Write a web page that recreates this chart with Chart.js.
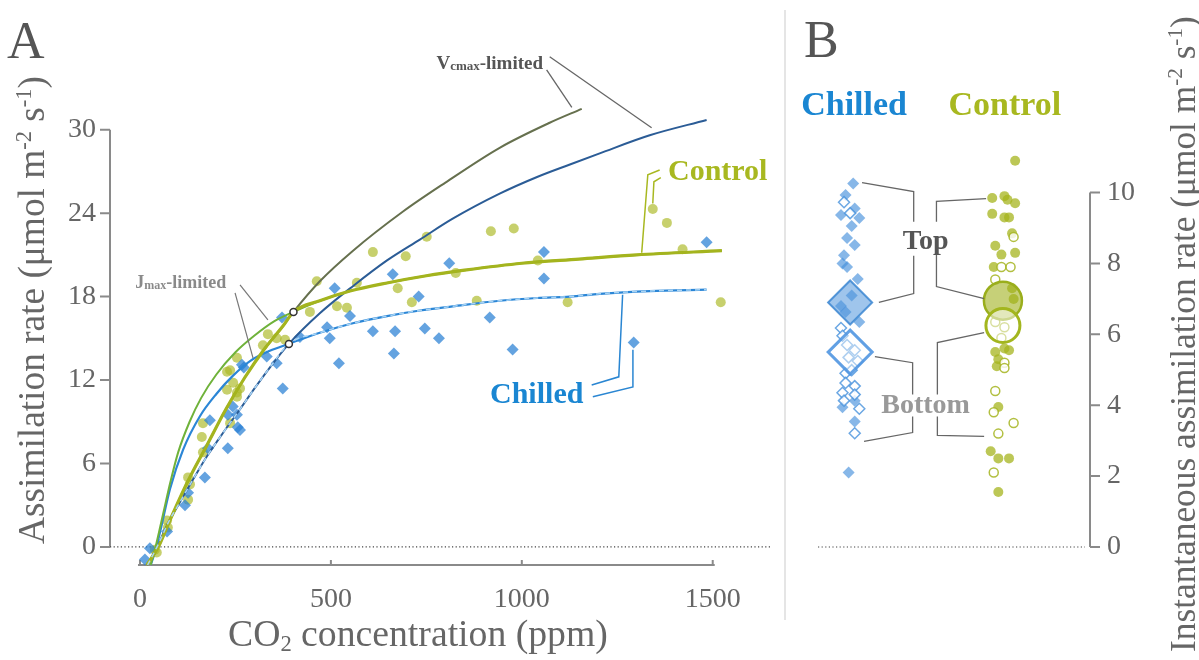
<!DOCTYPE html>
<html>
<head>
<meta charset="utf-8">
<script src="https://cdn.jsdelivr.net/npm/chart.js@4"></script>
<style>
body { margin: 0; background: #fff; width: 1199px; height: 660px; overflow: hidden; position: relative; }
canvas { position: absolute; top: 0; }
#panelA { left: 0; }
#panelB { left: 790px; }
</style>
</head>
<body>
<canvas id="panelA" width="790" height="660"></canvas>
<canvas id="panelB" width="409" height="660"></canvas>
<script>
// ---- panel A data: [CO2 ppm, assimilation] ----
const xTicks = [0, 500, 1000, 1500]
const yTicks = [0, 6, 12, 18, 24, 30]

const chilledPts = [[13,-0.9],[26,-0.1],[71,1.1],[118,3.0],[126,3.9],[170,5.0],[178,7.1],[230,7.1],[183,9.1],[230,9.5],[243,10.1],[254,9.5],[256,8.6],[262,8.4],[267,13.1],[272,12.9],[332,13.7],[358,13.2],[374,11.4],[372,16.5],[419,15.1],[490,15.8],[497,15.0],[510,18.6],[521,13.2],[550,16.6],[610,15.5],[662,19.6],[668,15.5],[665,13.9],[730,18.0],[746,15.7],[783,15.0],[810,20.4],[916,16.5],[976,14.2],[1058,21.2],[1058,19.3],[1293,14.7],[1484,21.9]]
const controlPts = [[39,-0.2],[44,-0.4],[71,1.9],[73,1.4],[126,3.4],[131,4.5],[126,5.0],[165,6.8],[162,7.9],[165,8.9],[236,8.9],[228,11.3],[254,11.1],[244,11.8],[262,11.4],[254,10.8],[228,12.6],[236,12.7],[254,13.6],[322,14.5],[335,15.3],[358,15.0],[380,14.9],[445,16.9],[463,19.1],[516,17.3],[542,17.2],[568,19.0],[610,21.2],[675,18.6],[696,20.9],[712,17.6],[751,22.3],[827,19.7],[882,17.7],[919,22.7],[979,22.9],[1042,20.6],[1120,17.6],[1343,24.3],[1380,23.3],[1421,21.4],[1521,17.6]]

// curves
const ctlVcmax = [[18,-1.3],[50,0.1],[75,1.7],[125,4.7],[175,7.3],[225,9.9],[275,12.2],[325,14.2],[375,15.9],[402,16.9],[471,19.1],[558,21.3],[688,24.1],[800,26.2],[942,28.7],[1073,30.5],[1157,31.5]]
const ctlJmax = [[28,-1.3],[40,-0.1],[60,2.3],[80,4.7],[100,6.8],[130,9.0],[160,10.7],[200,12.4],[250,14.0],[300,15.2],[350,16.2],[402,16.9],[471,17.7],[550,18.4],[650,19.0],[750,19.5],[850,19.9],[1000,20.4],[1150,20.7],[1300,21.0],[1524,21.3]]
const chilledVcmax = [[20,-1.3],[50,0.3],[75,1.8],[100,3.0],[140,4.9],[175,6.5],[220,8.3],[262,9.9],[300,11.4],[340,12.9],[390,14.6],[471,16.8],[560,18.8],[647,20.6],[733,22.1],[819,23.6],[942,25.4],[1040,26.6],[1126,27.5],[1204,28.3],[1335,29.6],[1484,30.7]]
const chilledJmax = [[28,-1.3],[40,-0.3],[52,1.0],[79,4.2],[113,7.0],[157,9.4],[200,11.0],[243,12.3],[290,13.4],[340,14.1],[390,14.6],[471,15.4],[560,16.1],[647,16.6],[733,17.0],[819,17.3],[942,17.7],[1040,17.9],[1126,18.0],[1204,18.2],[1335,18.4],[1484,18.5]]
const crossPts = [[402,16.9],[390,14.6]]

// ---- panel B data: [jittered group position, instantaneous rate] ----
const bTicks = [0, 2, 4, 6, 8, 10]
const chilledTop = [[1.02,10.26],[0.97,9.93],[1.03,9.55],[0.94,9.37],[1.06,9.28],[1.01,9.06],[0.98,8.72],[1.03,8.52],[0.96,8.23],[0.95,8.0],[0.98,7.9],[1.05,7.56],[1.01,7.1],[0.94,6.8],[0.97,6.63],[1.06,6.35],[1.03,4.13],[0.95,3.94],[1.03,3.54],[0.99,2.1]]
const chilledBottom = [[0.96,9.73],[1.0,9.42],[0.94,6.18],[0.95,5.96],[0.98,5.7],[1.03,5.55],[0.99,5.35],[1.05,5.25],[0.97,4.9],[1.01,4.99],[0.97,4.63],[1.03,4.54],[0.95,4.35],[1.03,4.3],[0.96,4.13],[1.06,3.9],[1.03,3.21]]
const controlTop = [[2.08,10.9],[1.93,9.85],[2.01,9.9],[2.03,9.8],[2.08,9.7],[1.93,9.4],[2.01,9.3],[2.04,9.3],[2.06,8.85],[1.95,8.5],[1.99,8.25],[2.08,8.3],[1.94,7.9],[2.06,7.3],[2.07,7.0],[1.95,5.5],[2.01,5.6],[2.04,5.55],[1.97,5.3],[1.96,5.1],[1.97,3.95],[1.92,2.7],[1.97,2.5],[2.04,2.5],[1.97,1.55]]
const controlBottom = [[2.07,8.75],[1.99,7.9],[2.05,7.9],[1.95,7.55],[1.95,6.35],[2.01,6.2],[1.99,5.9],[2.01,5.2],[2.01,5.05],[1.95,4.4],[1.94,3.8],[2.07,3.5],[1.97,3.2],[1.94,2.1]]
const groupX = [1, 2]
const meanTop = [6.9, 6.95]
const meanBottom = [5.5, 6.25]

const SERIF = '"Liberation Serif", "DejaVu Serif", serif'
const AXIS = '#8a8a8a'
const TEXT = '#666'

const pts = arr => arr.map(p => ({ x: p[0], y: p[1] }))
const controlFit = ctlVcmax.filter(p => p[0] <= 402).concat(ctlJmax.filter(p => p[0] > 402))
const chilledFit = chilledVcmax.filter(p => p[0] <= 390).concat(chilledJmax.filter(p => p[0] > 390))

function curve(arr, color, width, order, extra) {
    return Object.assign({
        type: 'line', data: pts(arr), borderColor: color, borderWidth: width,
        pointRadius: 0, fill: false, cubicInterpolationMode: 'monotone', order: order, clip: false
    }, extra || {})
}

function toPx(chart, x, y) {
    return [chart.scales.x.getPixelForValue(x), chart.scales.y.getPixelForValue(y)]
}

function path(ctx, chart, list, color, width) {
    ctx.save()
    ctx.beginPath()
    ctx.strokeStyle = color
    ctx.lineWidth = width
    list.forEach((p, i) => {
        let [px, py] = toPx(chart, p[0], p[1])
        if (i) ctx.lineTo(px, py)
        else ctx.moveTo(px, py)
    })
    ctx.stroke()
    ctx.restore()
}

// parts: [text, size, dy]
function richText(ctx, chart, parts, x, y, color) {
    let [cx, cy] = toPx(chart, x, y)
    ctx.save()
    ctx.fillStyle = color
    ctx.textBaseline = 'alphabetic'
    let total = 0
    for (let p of parts) {
        ctx.font = 'bold ' + p[1] + 'px ' + SERIF
        total += ctx.measureText(p[0]).width
    }
    let left = cx - total / 2
    for (let p of parts) {
        ctx.font = 'bold ' + p[1] + 'px ' + SERIF
        ctx.fillText(p[0], left, cy + (p[2] || 0))
        left += ctx.measureText(p[0]).width
    }
    ctx.restore()
}

// title text with sub/superscripts, fitted to a length; parts: [text, scale, dy in em]
function titleText(ctx, parts, len, cx, cy) {
    let base = 36
    let widthAt = size => {
        let w = 0
        for (let p of parts) {
            ctx.font = (size * p[1]) + 'px ' + SERIF
            w += ctx.measureText(p[0]).width
        }
        return w
    }
    let size = base * len / widthAt(base)
    let left = cx - len / 2
    ctx.textAlign = 'left'
    ctx.textBaseline = 'alphabetic'
    for (let p of parts) {
        ctx.font = (size * p[1]) + 'px ' + SERIF
        ctx.fillText(p[0], left, cy + size * 0.33 + p[2] * size)
        left += ctx.measureText(p[0]).width
    }
}

const unitParts = [['(\u03bcmol m', 1, 0], ['-2', 0.6, -0.36], [' s', 1, 0], ['-1', 0.6, -0.36], [')', 1, 0]]

const axesA = {
    id: 'axesA',
    beforeDatasetsDraw(chart) {
        let ctx = chart.ctx
        let xs = chart.scales.x, ys = chart.scales.y
        let area = chart.chartArea
        ctx.save()
        ctx.strokeStyle = AXIS
        ctx.lineWidth = 2
        // y axis
        ctx.beginPath()
        ctx.moveTo(area.left, ys.getPixelForValue(30))
        ctx.lineTo(area.left, ys.getPixelForValue(0))
        for (let v of yTicks) {
            ctx.moveTo(area.left - 10, ys.getPixelForValue(v))
            ctx.lineTo(area.left, ys.getPixelForValue(v))
        }
        // x axis
        ctx.moveTo(xs.getPixelForValue(0) - 2, area.bottom)
        ctx.lineTo(xs.getPixelForValue(1500) + 2, area.bottom)
        for (let v of xTicks) {
            ctx.moveTo(xs.getPixelForValue(v), area.bottom)
            ctx.lineTo(xs.getPixelForValue(v), area.bottom - 5)
        }
        ctx.stroke()
        // dotted zero line
        ctx.beginPath()
        ctx.strokeStyle = '#444'
        ctx.lineWidth = 1.2
        ctx.setLineDash([1.2, 2.4])
        ctx.moveTo(area.left, ys.getPixelForValue(0))
        ctx.lineTo(area.right, ys.getPixelForValue(0))
        ctx.stroke()
        ctx.setLineDash([])
        // panel separator
        ctx.beginPath()
        ctx.strokeStyle = '#dcdcdc'
        ctx.lineWidth = 1.5
        ctx.moveTo(785, 10)
        ctx.lineTo(785, 620)
        ctx.stroke()
        ctx.restore()
    },
    afterDatasetsDraw(chart) {
        let ctx = chart.ctx
        // leader lines
        path(ctx, chart, [[1073,35.25],[1340,30.14]], '#666', 1.3)
        path(ctx, chart, [[1065,34.3],[1131,31.6]], '#666', 1.3)
        path(ctx, chart, [[262,18.85],[335,16.33]], '#777', 1.2)
        path(ctx, chart, [[249,18.27],[296,13.6]], '#777', 1.2)
        path(ctx, chart, [[1361,27.1],[1330,26.76],[1314,21.15]], '#a8b820', 1.5)
        path(ctx, chart, [[1364,26.55],[1346,26.26],[1343,24.7]], '#a8b820', 1.5)
        path(ctx, chart, [[1183,11.65],[1254,12.23],[1264,18.13]], '#2a86d2', 1.5)
        path(ctx, chart, [[1186,10.8],[1291,11.5],[1291,14.17]], '#2a86d2', 1.5)
        // labels
        richText(ctx, chart, [['V', 19], ['cmax', 13, 1], ['-limited', 19]], 916, 34.4, '#555')
        richText(ctx, chart, [['J', 18], ['max', 12, 1], ['-limited', 18]], 107, 18.63, '#8a8a8a')
        richText(ctx, chart, [['Control', 30]], 1513, 26.4, '#a8b820')
        richText(ctx, chart, [['Chilled', 30]], 1039, 10.36, '#1a86d2')

        ctx.save()
        ctx.fillStyle = '#555'
        ctx.font = '52px ' + SERIF
        ctx.textAlign = 'left'
        ctx.textBaseline = 'alphabetic'
        ctx.fillText('A', 7, 58)
        ctx.fillStyle = TEXT
        titleText(ctx, [['CO', 1, 0], ['2', 0.6, 0.12], [' concentration (ppm)', 1, 0]], 380, 418, 634)
        ctx.translate(32, 310)
        ctx.rotate(-Math.PI / 2)
        titleText(ctx, [['Assimilation rate ', 1, 0]].concat(unitParts), 468, 0, 0)
        ctx.restore()
    }
}

let chartA = new Chart(document.getElementById('panelA'), {
    type: 'scatter',
    data: {
        datasets: [
            { data: pts(controlPts), pointStyle: 'circle', pointRadius: 5, backgroundColor: 'rgba(172,186,40,0.68)', borderWidth: 0, order: 10, clip: false },
            { data: pts(chilledPts), pointStyle: 'rectRot', pointRadius: 6, backgroundColor: 'rgba(40,128,212,0.72)', borderWidth: 0, order: 9, clip: false },
            curve(ctlVcmax, '#66704e', 2, 6),
            curve(chilledVcmax, '#2b5c96', 2, 6),
            curve(ctlJmax, '#6fb23a', 2, 5),
            curve(chilledJmax, '#2b86d6', 2.2, 5),
            curve(controlFit, '#a4b41e', 3.2, 3),
            curve(chilledFit, '#a8d4f5', 1.5, 2, { borderDash: [5, 4] }),
            { data: pts(crossPts), pointRadius: 3.5, backgroundColor: '#fff', borderColor: '#333', borderWidth: 1.5, order: 1, clip: false }
        ]
    },
    options: {
        responsive: false,
        animation: false,
        devicePixelRatio: 1,
        layout: { padding: { top: 88, right: 20, left: 0, bottom: 0 } },
        plugins: { legend: { display: false }, tooltip: { enabled: false } },
        scales: {
            x: {
                type: 'linear', min: -78.5, max: 1650,
                grid: { display: false, drawTicks: false }, border: { display: false },
                afterBuildTicks: s => { s.ticks = xTicks.map(v => ({ value: v })) },
                afterFit: s => { s.height = 95 },
                ticks: { font: { family: SERIF, size: 28 }, color: TEXT, padding: 18, maxRotation: 0, autoSkip: false, callback: v => String(v) }
            },
            y: {
                type: 'linear', min: -1.3, max: 33,
                grid: { display: false, drawTicks: false }, border: { display: false },
                afterBuildTicks: s => { s.ticks = yTicks.map(v => ({ value: v })) },
                afterFit: s => { s.width = 110 },
                ticks: { font: { family: SERIF, size: 28 }, color: TEXT, padding: 14, autoSkip: false, callback: v => String(v) }
            }
        }
    },
    plugins: [axesA]
})

const axesB = {
    id: 'axesB',
    beforeDatasetsDraw(chart) {
        let ctx = chart.ctx
        let ys = chart.scales.y
        let area = chart.chartArea
        ctx.save()
        ctx.strokeStyle = AXIS
        ctx.lineWidth = 2
        ctx.beginPath()
        ctx.moveTo(area.right, ys.getPixelForValue(10))
        ctx.lineTo(area.right, ys.getPixelForValue(0))
        for (let v of bTicks) {
            ctx.moveTo(area.right, ys.getPixelForValue(v))
            ctx.lineTo(area.right + 10, ys.getPixelForValue(v))
        }
        ctx.stroke()
        ctx.beginPath()
        ctx.strokeStyle = '#444'
        ctx.lineWidth = 1.2
        ctx.setLineDash([1.2, 2.4])
        ctx.moveTo(area.left + 3, ys.getPixelForValue(0))
        ctx.lineTo(area.right - 5, ys.getPixelForValue(0))
        ctx.stroke()
        ctx.restore()
    },
    afterDatasetsDraw(chart) {
        let ctx = chart.ctx
        let grey = '#666'
        path(ctx, chart, [[1.078,10.28],[1.416,10.03],[1.416,9.18]], grey, 1.3)
        path(ctx, chart, [[1.416,8.22],[1.416,7.15],[1.188,6.90]], grey, 1.3)
        path(ctx, chart, [[1.89,9.83],[1.565,9.75],[1.565,9.18]], grey, 1.3)
        path(ctx, chart, [[1.565,8.25],[1.565,7.35],[1.877,7.01]], grey, 1.3)
        path(ctx, chart, [[1.162,5.37],[1.409,5.2],[1.409,4.3]], grey, 1.3)
        path(ctx, chart, [[1.409,3.68],[1.409,3.23],[1.091,2.98]], grey, 1.3)
        path(ctx, chart, [[1.877,6.05],[1.571,5.77],[1.571,4.3]], grey, 1.3)
        path(ctx, chart, [[1.571,3.68],[1.571,3.15],[1.877,3.12]], grey, 1.3)

        richText(ctx, chart, [['Chilled', 34]], 1.026, 12.2, '#1a86d2')
        richText(ctx, chart, [['Control', 34]], 2.013, 12.2, '#a8b820')
        richText(ctx, chart, [['Top', 28]], 1.494, 8.42, '#555')
        richText(ctx, chart, [['Bottom', 28]], 1.494, 3.77, '#999')

        ctx.save()
        ctx.fillStyle = '#555'
        ctx.font = '52px ' + SERIF
        ctx.textBaseline = 'alphabetic'
        ctx.fillText('B', 14, 57)
        ctx.fillStyle = TEXT
        ctx.translate(393, 334)
        ctx.rotate(-Math.PI / 2)
        titleText(ctx, [['Instantaneous assimilation rate ', 1, 0]].concat(unitParts), 636, 0, 0)
        ctx.restore()
    }
}

let chartB = new Chart(document.getElementById('panelB'), {
    type: 'scatter',
    data: {
        datasets: [
            { data: pts(chilledTop), pointStyle: 'rectRot', pointRadius: 6, backgroundColor: 'rgba(70,145,220,0.65)', borderWidth: 0, order: 6, clip: false },
            { data: pts(chilledBottom), pointStyle: 'rectRot', pointRadius: 5.5, backgroundColor: 'rgba(255,255,255,0.8)', borderColor: 'rgba(70,145,220,0.8)', borderWidth: 1.5, order: 5, clip: false },
            { data: pts(controlTop), pointStyle: 'circle', pointRadius: 5, backgroundColor: 'rgba(165,180,30,0.75)', borderWidth: 0, order: 6, clip: false },
            { data: pts(controlBottom), pointStyle: 'circle', pointRadius: 4.5, backgroundColor: 'rgba(255,255,255,0.8)', borderColor: 'rgba(165,180,30,0.85)', borderWidth: 1.5, order: 5, clip: false },
            { data: [{ x: groupX[0], y: meanTop[0] }], pointStyle: 'rectRot', pointRadius: 22, backgroundColor: 'rgba(80,150,220,0.55)', borderColor: 'rgba(60,135,210,0.85)', borderWidth: 2, order: 2, clip: false },
            { data: [{ x: groupX[0], y: meanBottom[0] }], pointStyle: 'rectRot', pointRadius: 22, backgroundColor: 'rgba(255,255,255,0.45)', borderColor: 'rgba(80,150,225,0.9)', borderWidth: 3, order: 1, clip: false },
            { data: [{ x: groupX[1], y: meanTop[1] }], pointStyle: 'circle', pointRadius: 19, backgroundColor: 'rgba(160,176,30,0.6)', borderColor: '#9aae1c', borderWidth: 2.5, order: 2, clip: false },
            { data: [{ x: groupX[1], y: meanBottom[1] }], pointStyle: 'circle', pointRadius: 17, backgroundColor: 'rgba(255,255,255,0.5)', borderColor: '#a3b61e', borderWidth: 3, order: 1, clip: false }
        ]
    },
    options: {
        responsive: false,
        animation: false,
        devicePixelRatio: 1,
        layout: { padding: { top: 104, right: 0, left: 22, bottom: 113 } },
        plugins: { legend: { display: false }, tooltip: { enabled: false } },
        scales: {
            x: { type: 'linear', min: 0.77, max: 2.57, display: false },
            y: {
                type: 'linear', position: 'right', min: 0, max: 12.5,
                grid: { display: false, drawTicks: false }, border: { display: false },
                afterBuildTicks: s => { s.ticks = bTicks.map(v => ({ value: v })) },
                afterFit: s => { s.width = 109 },
                ticks: { font: { family: SERIF, size: 28 }, color: TEXT, padding: 17, autoSkip: false }
            }
        }
    },
    plugins: [axesB]
})
</script>
</body>
</html>
